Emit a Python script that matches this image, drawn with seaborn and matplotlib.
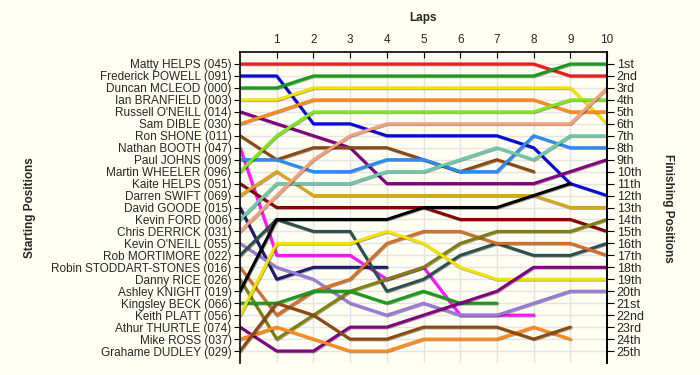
import pandas as pd
import numpy as np
import matplotlib
matplotlib.use("Agg")
import matplotlib.pyplot as plt
import matplotlib.patheffects as pe
import seaborn as sns

sns.set_style("white")
plt.rcParams['font.family'] = ['Liberation Sans', 'DejaVu Sans']

# ---------------------------------------------------------------------------
# data: position of each driver at lap 0 (grid) .. lap 10, None = retired
# ---------------------------------------------------------------------------
laps = list(range(0, 11))

drivers = ["Matty HELPS (045)", "Frederick POWELL (091)", "Duncan MCLEOD (000)",
           "Ian BRANFIELD (003)", "Russell O'NEILL (014)", "Sam DIBLE (030)",
           "Ron SHONE (011)", "Nathan BOOTH (047)", "Paul JOHNS (009)",
           "Martin WHEELER (096)", "Kaite HELPS (051)", "Darren SWIFT (069)",
           "David GOODE (015)", "Kevin FORD (006)", "Chris DERRICK (031)",
           "Kevin O'NEILL (055)", "Rob MORTIMORE (022)", "Robin STODDART-STONES (016)",
           "Danny RICE (026)", "Ashley KNIGHT (019)", "Kingsley BECK (066)",
           "Keith PLATT (056)", "Athur THURTLE (074)", "Mike ROSS (037)",
           "Grahame DUDLEY (029)"]

colors = ["#ee1c1c", "#0a0ad8", "#1a9a1a", "#f2e200", "#800080", "#ff8a1a",
          "#8b4a13", "#ff14ff", "#2a8cf0", "#7ee61a", "#8b0000", "#d8a520",
          "#1c1c70", "#6cc8a8", "#f4a07e", "#9a7ad8", "#2f4f4f", "#d0702a",
          "#808010", "#000000", "#1a9a1a", "#f2e200", "#800080", "#ff8a1a",
          "#8b4a13"]

pos_045 = [1, 1, 1, 1, 1, 1, 1, 1, 1, 2, 2]
pos_091 = [2, 2, 6, 6, 7, 7, 7, 7, 8, 11, 12]
pos_000 = [3, 3, 2, 2, 2, 2, 2, 2, 2, 1, 1]
pos_003 = [4, 4, 3, 3, 3, 3, 3, 3, 3, 3, 6]
pos_014 = [5, 6, 7, 8, 11, 11, 11, 11, 11, 10, 9]
pos_030 = [6, 5, 4, 4, 4, 4, 4, 4, 4, 5, 5]
pos_011 = [7, 9, 8, 8, 8, 9, 10, 9, 10, None, None]
pos_047 = [8, 17, 17, 17, 19, 18, 22, 22, 22, None, None]
pos_009 = [9, 9, 10, 10, 9, 9, 10, 10, 7, 8, 8]
pos_096 = [10, 7, 5, 5, 5, 5, 5, 5, 5, 4, 4]
pos_051 = [11, 13, 13, 13, 13, 13, 14, 14, 14, 14, 15]
pos_069 = [12, 10, 12, 12, 12, 12, 12, 12, 12, 13, 13]
pos_015 = [13, 19, 18, 18, 18, None, None, None, None, None, None]
pos_006 = [14, 11, 11, 11, 10, 10, 9, 8, 9, 7, 7]
pos_031 = [15, 12, 9, 7, 6, 6, 6, 6, 6, 6, 3]
pos_055 = [16, 18, 19, 21, 22, 21, 22, 22, 21, 20, 20]
pos_022 = [17, 14, 15, 15, 20, 19, 17, 16, 17, 17, 16]
pos_016 = [18, 22, 20, 19, 16, 15, 15, 16, 16, 16, 17]
pos_026 = [19, 24, 22, 20, 19, 18, 16, 15, 15, 15, 14]
pos_019 = [20, 14, 14, 14, 14, 13, 13, 13, 12, 11, None]
pos_066 = [21, 21, 20, 20, 21, 20, 21, 21, None, None, None]
pos_056 = [22, 16, 16, 16, 15, 16, 18, 19, 19, 19, 19]
pos_074 = [23, 25, 25, 23, 23, 22, 21, 20, 18, 18, 18]
pos_037 = [24, 23, 24, 25, 25, 24, 24, 24, 23, 24, None]
pos_029 = [25, 21, 22, 24, 24, 23, 23, 23, 24, 23, None]

positions = [pos_045, pos_091, pos_000, pos_003, pos_014, pos_030, pos_011,
             pos_047, pos_009, pos_096, pos_051, pos_069, pos_015, pos_006,
             pos_031, pos_055, pos_022, pos_016, pos_026, pos_019, pos_066,
             pos_056, pos_074, pos_037, pos_029]

finish_labels = ["1st", "2nd", "3rd"] + [f"{n}th" for n in range(4, 21)] + \
                ["21st", "22nd", "23rd", "24th", "25th"]

# long format table for seaborn
rows = []
for name, pos in zip(drivers, positions):
    for lap, p in zip(laps, pos):
        if p is not None:
            rows.append({"driver": name, "lap": lap, "pos": p})
df = pd.DataFrame(rows)

bg = "#fffef2"
fig = plt.figure(figsize=(7, 3.75), dpi=100, facecolor=bg)
ax = fig.add_axes([240 / 700, 1 - 363 / 375, 367 / 700, 311 / 375])
ax.set_facecolor(bg)

# grid
for lap in laps:
    ax.axvline(lap, color="#e4e4e4", lw=1, zorder=0)
for r in range(1, 26):
    ax.axhline(r, color="#e4e4e4", lw=1, zorder=0)

sns.lineplot(data=df, x="lap", y="pos", hue="driver", hue_order=drivers,
             palette=dict(zip(drivers, colors)), estimator=None, sort=False,
             legend=False, lw=2.2, ax=ax,
             path_effects=[pe.SimpleLineShadow(offset=(0.6, -0.6), alpha=0.35),
                           pe.Normal()])

ax.set_xlim(0, 10)
ax.set_ylim(26, 0)
ax.set_xlabel("")
ax.set_ylabel("")

# top axis with lap numbers
ax.xaxis.tick_top()
ax.set_xticks(laps[1:])
ax.set_xticklabels([str(l) for l in laps[1:]], fontsize=8.5)
ax.tick_params(axis="x", direction="in", length=4, pad=4, color="black")

# left axis: starting positions
ax.set_yticks(range(1, 26))
ax.set_yticklabels(drivers, fontsize=8.5)
ax.tick_params(axis="y", direction="out", length=4, pad=2, color="black")

for side in ["top", "left", "right"]:
    ax.spines[side].set_color("black")
    ax.spines[side].set_linewidth(1.2)
ax.spines["bottom"].set_visible(False)

# right axis: finishing positions
ax2 = ax.twinx()
ax2.set_ylim(26, 0)
ax2.set_yticks(range(1, 26))
ax2.set_yticklabels(finish_labels, fontsize=9)
ax2.tick_params(axis="y", direction="out", length=5, pad=2, color="black")
ax2.spines["right"].set_color("black")
ax2.spines["right"].set_linewidth(1.2)
ax2.spines["bottom"].set_visible(False)
ax2.spines["top"].set_visible(False)
ax2.spines["left"].set_visible(False)

fig.text(423 / 700, 1 - 18 / 375, "Laps", ha="center", va="center",
         fontsize=8.5, fontweight="bold")
fig.text(30 / 700, 1 - 208 / 375, "Starting Positions", ha="center", va="center",
         rotation=90, fontsize=8.5, fontweight="bold")
fig.text(668 / 700, 1 - 208 / 375, "Finishing Positions", ha="center", va="center",
         rotation=270, fontsize=8.5, fontweight="bold")

fig.savefig("out.png", dpi=100, facecolor=bg)
